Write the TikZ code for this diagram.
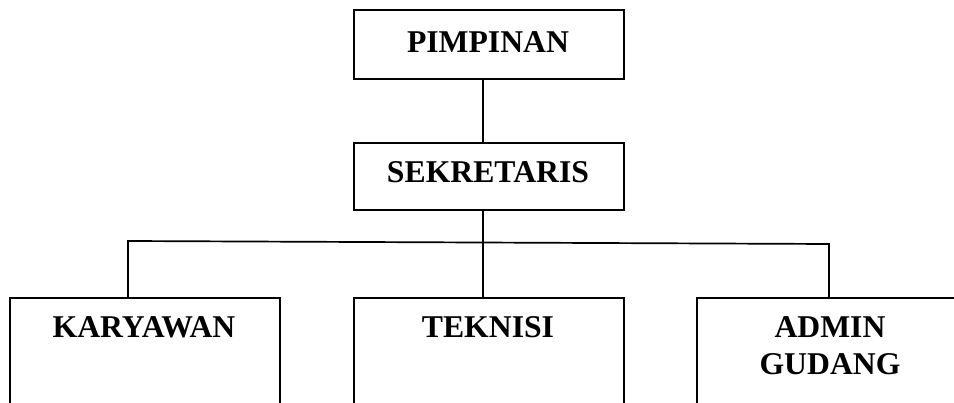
\documentclass[tikz,border=0pt]{standalone}
\usepackage{fontspec}
\setmainfont{Liberation Serif}
\begin{document}
\begin{tikzpicture}[x=1pt,y=-1pt,
  box/.style={draw=black,line width=1.7pt,rectangle,inner sep=0pt,anchor=north west},
  lbl/.style={font=\fontsize{31.7}{37}\selectfont\bfseries,anchor=base,inner sep=0pt},
  conn/.style={draw=black,line width=1.7pt}]
\useasboundingbox (0,0) rectangle (954,403);
\clip (0,0) rectangle (954,403);
% boxes
\node[box,minimum width=270pt,minimum height=69pt] (p) at (353,9) {};
\node[box,minimum width=270pt,minimum height=67pt] (s) at (353,142) {};
\node[box,minimum width=270pt,minimum height=130pt] (k) at (9,297) {};
\node[box,minimum width=270pt,minimum height=130pt] (t) at (353,297) {};
\node[box,minimum width=270pt,minimum height=130pt] (a) at (696,297) {};
% labels
\node[lbl] (pl) at (488,53) {PIMPINAN};
\node[lbl] (sl) at (488,183) {SEKRETARIS};
\node[lbl] (kl) at (144,338) {KARYAWAN};
\node[lbl] (tl) at (488,338) {TEKNISI};
\node[lbl] (al1) at (830,338) {ADMIN};
\node[lbl] (al2) at (830,375) {GUDANG};
% junction coordinates
\coordinate (ptop) at (483,78);
\coordinate (stop) at (483,142);
\coordinate (sbot) at (483,209);
\coordinate (kj) at (128,241);
\coordinate (aj) at (829,244);
\coordinate (kt) at (128,297);
\coordinate (tt) at (483,297);
\coordinate (at) at (829,297);
% connectors
\draw[conn] (ptop) -- (stop);
\draw[conn] (sbot) -- (tt);
\draw[conn] (kt) -- (kj) -- (aj) -- (at);
\end{tikzpicture}
\end{document}
